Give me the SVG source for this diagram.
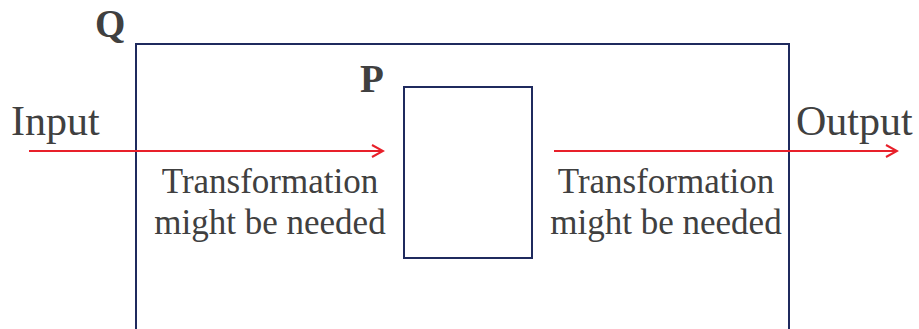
<svg xmlns="http://www.w3.org/2000/svg" width="919" height="329" viewBox="0 0 919 329">
<style>
.box{fill:none;stroke:#1f2a5e;stroke-width:2}
.arr{fill:none;stroke:#e8202a;stroke-width:2}
.t{font-family:"Liberation Serif","Times New Roman",serif;fill:#404040}
.lbl{font-size:42px}
.note{font-size:35px;text-anchor:middle}
.b{font-size:39px;font-weight:bold}
</style>
<defs>
<marker id="ah" markerWidth="14" markerHeight="14" refX="12" refY="7" orient="auto" markerUnits="userSpaceOnUse">
<path d="M1,1 L12,7 L1,13" fill="none" stroke="#e8202a" stroke-width="2"/>
</marker>
</defs>
<rect width="919" height="329" fill="#ffffff"/>
<g id="Q">
<rect class="box" x="136" y="44" width="653" height="300"/>
<text class="t b" x="95" y="37">Q</text>
</g>
<g id="P">
<rect class="box" x="404" y="87" width="128" height="171"/>
<text class="t b" x="360" y="92">P</text>
</g>
<g id="connectors">
<line class="arr" x1="29" y1="151" x2="383" y2="151" marker-end="url(#ah)"/>
<line class="arr" x1="554" y1="151" x2="897" y2="151" marker-end="url(#ah)"/>
</g>
<g id="labels">
<text class="t lbl" x="11" y="135">Input</text>
<text class="t lbl" x="796" y="135">Output</text>
<text class="t note" x="270" y="193">Transformation</text>
<text class="t note" x="270" y="234">might be needed</text>
<text class="t note" x="666" y="193">Transformation</text>
<text class="t note" x="666" y="234">might be needed</text>
</g>
</svg>
